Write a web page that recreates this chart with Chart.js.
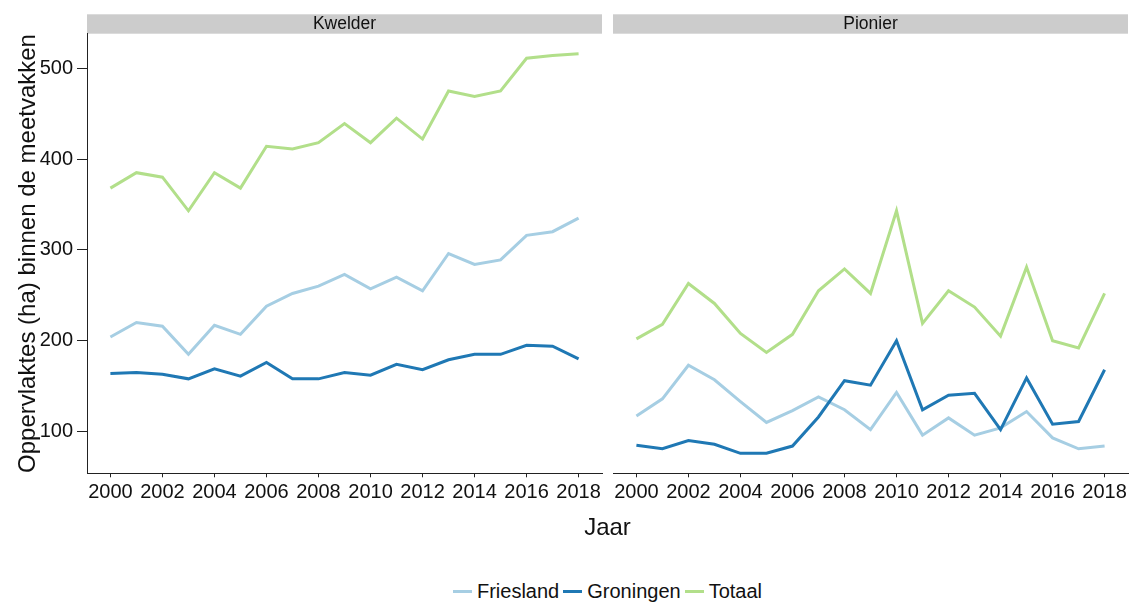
<!DOCTYPE html>
<html lang="nl">
<head>
    <meta charset="UTF-8">
    <title>Oppervlaktes kwelder en pionier</title>
    <script src="https://cdn.jsdelivr.net/npm/chart.js"></script>
    <style>
        body {
            margin: 0;
            background: #fff;
            font-family: "Liberation Sans", Arial, sans-serif;
        }
        .page {
            position: relative;
            width: 1132px;
            height: 604px;
            overflow: hidden;
        }
        .panel {
            position: absolute;
            top: 0;
            height: 520px;
        }
        .x-title {
            position: absolute;
            left: 87px;
            width: 1041px;
            top: 513px;
            text-align: center;
            font-size: 24px;
            line-height: 28px;
            color: #111;
        }
        .legend {
            position: absolute;
            left: 87px;
            width: 1041px;
            top: 579px;
            display: flex;
            justify-content: center;
            align-items: center;
            font-size: 20px;
            line-height: 24px;
            color: #111;
        }
        .legend-item {
            display: flex;
            align-items: center;
            margin: 0 2px;
        }
        .legend-key {
            width: 19px;
            height: 3px;
            margin-right: 5px;
        }
    </style>
</head>
<body>
<div class="page">
    <div class="panel" id="leftPanel" style="left:0;width:607px;"><canvas id="kwelderChart"></canvas></div>
    <div class="panel" id="rightPanel" style="left:607px;width:525px;"><canvas id="pionierChart"></canvas></div>
    <div class="x-title">Jaar</div>
    <div class="legend" id="legend"></div>
</div>

<script>
    // values
    const years = [2000, 2001, 2002, 2003, 2004, 2005, 2006, 2007, 2008, 2009,
                   2010, 2011, 2012, 2013, 2014, 2015, 2016, 2017, 2018];
    const xTicks = [2000, 2002, 2004, 2006, 2008, 2010, 2012, 2014, 2016, 2018];
    const yTicks = [100, 200, 300, 400, 500];
    const xLimits = [1999.1, 2018.9];
    const yLimits = [54, 538];

    const seriesNames = ['Friesland', 'Groningen', 'Totaal'];
    const seriesColors = ['#a6cee3', '#1f78b4', '#b2df8a'];

    const kwelderFriesland = [204, 220, 216, 185, 217, 207, 238, 252, 260, 273, 257, 270, 255, 296, 284, 289, 316, 320, 335];
    const kwelderGroningen = [164, 165, 163, 158, 169, 161, 176, 158, 158, 165, 162, 174, 168, 179, 185, 185, 195, 194, 180];
    const kwelderTotaal    = [368, 385, 380, 343, 385, 368, 414, 411, 418, 439, 418, 445, 422, 475, 469, 475, 511, 514, 516];

    const pionierFriesland = [117, 136, 173, 157, 133, 110, 123, 138, 124, 102, 143, 96, 115, 96, 104, 122, 93, 81, 84];
    const pionierGroningen = [85, 81, 90, 86, 76, 76, 84, 116, 156, 151, 200, 124, 140, 142, 102, 159, 108, 111, 168];
    const pionierTotaal    = [202, 218, 263, 241, 208, 187, 207, 255, 279, 252, 343, 219, 255, 237, 205, 281, 200, 192, 252];

    const fontFamily = '"Liberation Sans", Arial, sans-serif';
    const axisColor = '#222';
    const textColor = '#111';

    // grey facet strip behind the chart title
    const stripPlugin = {
        id: 'strip',
        beforeDraw(chart) {
            const t = chart.titleBlock;
            if (!t) return;
            const ctx = chart.ctx;
            ctx.save();
            ctx.fillStyle = '#cccccc';
            ctx.fillRect(t.left, t.top, t.width, t.height);
            ctx.restore();
        }
    };

    function makeDatasets(seriesValues) {
        return seriesValues.map((vals, i) => ({
            label: seriesNames[i],
            data: years.map((yr, j) => ({ x: yr, y: vals[j] })),
            borderColor: seriesColors[i],
            backgroundColor: seriesColors[i],
            borderWidth: 3,
            pointRadius: 0,
            tension: 0,
            fill: false,
            order: seriesNames.length - i
        }));
    }

    function makeChart(canvasId, facet, seriesValues, showY, padding) {
        return new Chart(document.getElementById(canvasId), {
            type: 'line',
            data: { datasets: makeDatasets(seriesValues) },
            options: {
                responsive: true,
                maintainAspectRatio: false,
                animation: false,
                layout: { padding: padding },
                plugins: {
                    legend: { display: false },
                    tooltip: { enabled: false },
                    title: {
                        display: true,
                        text: facet,
                        fullSize: false,
                        color: textColor,
                        padding: 0,
                        font: { family: fontFamily, size: 17.5, weight: 'normal', lineHeight: '19.4px' }
                    }
                },
                scales: {
                    x: {
                        type: 'linear',
                        min: xLimits[0],
                        max: xLimits[1],
                        afterBuildTicks: s => { s.ticks = xTicks.map(v => ({ value: v })); },
                        afterFit: s => { s.height = 46.7; },
                        ticks: {
                            callback: v => String(v),
                            autoSkip: false,
                            maxRotation: 0,
                            color: textColor,
                            padding: 3,
                            font: { family: fontFamily, size: 20 }
                        },
                        grid: { drawOnChartArea: false, drawTicks: true, tickLength: 4, color: axisColor },
                        border: { display: true, color: axisColor, width: 1 }
                    },
                    y: {
                        display: showY,
                        min: yLimits[0],
                        max: yLimits[1],
                        afterBuildTicks: s => { s.ticks = yTicks.map(v => ({ value: v })); },
                        afterFit: s => { s.width = showY ? 87 : 0; },
                        ticks: {
                            color: textColor,
                            padding: 4,
                            font: { family: fontFamily, size: 20 }
                        },
                        grid: { drawOnChartArea: false, drawTicks: true, tickLength: 10, color: axisColor },
                        border: { display: true, color: axisColor, width: 1 },
                        title: {
                            display: true,
                            text: 'Oppervlaktes (ha) binnen de meetvakken',
                            color: textColor,
                            padding: { top: 14, bottom: 0 },
                            font: { family: fontFamily, size: 24 }
                        }
                    }
                }
            },
            plugins: [stripPlugin]
        });
    }

    makeChart('kwelderChart', 'Kwelder',
        [kwelderFriesland, kwelderGroningen, kwelderTotaal], true,
        { top: 14.3, left: 0, right: 5, bottom: 0 });

    makeChart('pionierChart', 'Pionier',
        [pionierFriesland, pionierGroningen, pionierTotaal], false,
        { top: 14.3, left: 6, right: 4, bottom: 0 });

    // legend below both panels
    const legend = document.getElementById('legend');
    seriesNames.forEach((name, i) => {
        const item = document.createElement('div');
        item.className = 'legend-item';
        const key = document.createElement('span');
        key.className = 'legend-key';
        key.style.background = seriesColors[i];
        const label = document.createElement('span');
        label.textContent = name;
        item.appendChild(key);
        item.appendChild(label);
        legend.appendChild(item);
    });
</script>
</body>
</html>
